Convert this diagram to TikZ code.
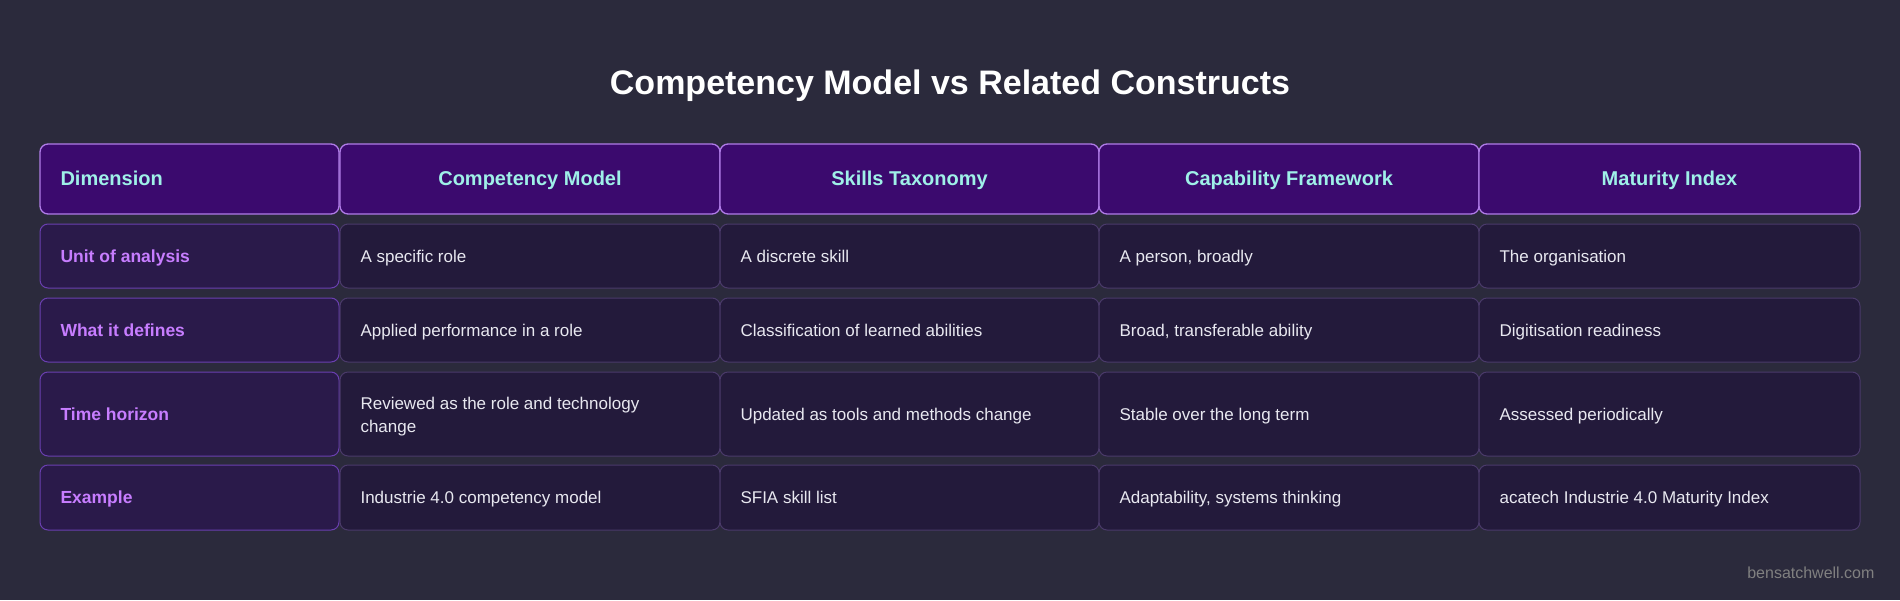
\documentclass[tikz,border=0pt]{standalone}
\usepackage{fontspec}
\setmainfont{Liberation Sans}
\usetikzlibrary{positioning}
\definecolor{bgc}{HTML}{2B2A3C}
\definecolor{headfill}{HTML}{3B0A6E}
\definecolor{headline}{HTML}{B07CE8}
\definecolor{headtext}{HTML}{9FF0E8}
\definecolor{dimfill}{HTML}{2A1A4A}
\definecolor{dimline}{HTML}{6A3FB0}
\definecolor{dimtext}{HTML}{C77DFF}
\definecolor{cellfill}{HTML}{231A3B}
\definecolor{cellline}{HTML}{4A3A6A}
\definecolor{celltext}{HTML}{E8E8F0}

\tikzset{
  box/.style={rounded corners=8pt, line width=1pt, inner sep=0pt},
  head/.style={box, fill=headfill, draw=headline, line width=1.3pt},
  dim/.style={box, fill=dimfill, draw=dimline},
  cell/.style={box, fill=cellfill, draw=cellline},
  fixh/.style={text height=1.5ex, text depth=.3ex},
  hlab/.style={fixh, font=\fontsize{20}{24}\selectfont\bfseries, text=headtext},
  dlab/.style={fixh, font=\fontsize{17.5}{21}\selectfont\bfseries, text=dimtext, anchor=west},
  clab/.style={fixh, font=\fontsize{17}{23}\selectfont, text=celltext, anchor=west, align=left}
}

% box from x1,y1 to x2,y2 (pixels, y down)
\newcommand{\tbox}[6]{%
  \draw[#1] (#2,-#3) rectangle (#4,-#5);
  \coordinate (#6) at (#2+17,-#3/2-#5/2-3);}

\begin{document}
\begin{tikzpicture}[x=1pt,y=1pt]
  \fill[bgc] (0,0) rectangle (1900,-600);
  \useasboundingbox (0,0) rectangle (1900,-600);

  \node[font=\fontsize{34}{40}\selectfont\bfseries, text=white] (title) at (950,-86) {Competency Model vs Related Constructs};

  % header row
  \tbox{head}{40}{144}{339}{214}{h0}
  \tbox{head}{340}{144}{720}{214}{h1}
  \tbox{head}{720}{144}{1099}{214}{h2}
  \tbox{head}{1099}{144}{1479}{214}{h3}
  \tbox{head}{1479}{144}{1860}{214}{h4}
  \node[hlab, anchor=west] (dimension) at (h0) {Dimension};
  \node[hlab] (compmodel) at (530,-182) {Competency Model};
  \node[hlab] (skilltax) at (909.5,-182) {Skills Taxonomy};
  \node[hlab] (capframe) at (1289,-182) {Capability Framework};
  \node[hlab] (matindex) at (1669.5,-182) {Maturity Index};

  % body rows
  \foreach \ya/\yb/\r in {224/288/1, 298/362/2, 372/456/3, 465/530/4}{
    \tbox{dim}{40}{\ya}{339}{\yb}{r\r c0}
    \tbox{cell}{340}{\ya}{720}{\yb}{r\r c1}
    \tbox{cell}{720}{\ya}{1099}{\yb}{r\r c2}
    \tbox{cell}{1099}{\ya}{1479}{\yb}{r\r c3}
    \tbox{cell}{1479}{\ya}{1860}{\yb}{r\r c4}
  }

  \node[dlab] (unit) at (r1c0) {Unit of analysis};
  \node[clab] (unit1) at (r1c1) {A specific role};
  \node[clab] (unit2) at (r1c2) {A discrete skill};
  \node[clab] (unit3) at (r1c3) {A person, broadly};
  \node[clab] (unit4) at (r1c4) {The organisation};

  \node[dlab] (defines) at (r2c0) {What it defines};
  \node[clab] (defines1) at (r2c1) {Applied performance in a role};
  \node[clab] (defines2) at (r2c2) {Classification of learned abilities};
  \node[clab] (defines3) at (r2c3) {Broad, transferable ability};
  \node[clab] (defines4) at (r2c4) {Digitisation readiness};

  \node[dlab] (horizon) at (r3c0) {Time horizon};
  \node[clab, text height=, text depth=] (horizon1) at (r3c1) {Reviewed as the role and technology\\change};
  \node[clab] (horizon2) at (r3c2) {Updated as tools and methods change};
  \node[clab] (horizon3) at (r3c3) {Stable over the long term};
  \node[clab] (horizon4) at (r3c4) {Assessed periodically};

  \node[dlab] (example) at (r4c0) {Example};
  \node[clab] (example1) at (r4c1) {Industrie 4.0 competency model};
  \node[clab] (example2) at (r4c2) {SFIA skill list};
  \node[clab] (example3) at (r4c3) {Adaptability, systems thinking};
  \node[clab] (example4) at (r4c4) {acatech Industrie 4.0 Maturity Index};

  \node[font=\fontsize{16}{20}\selectfont, text=gray, anchor=east] (credit) at (1878,-573) {bensatchwell.com};
\end{tikzpicture}
\end{document}
